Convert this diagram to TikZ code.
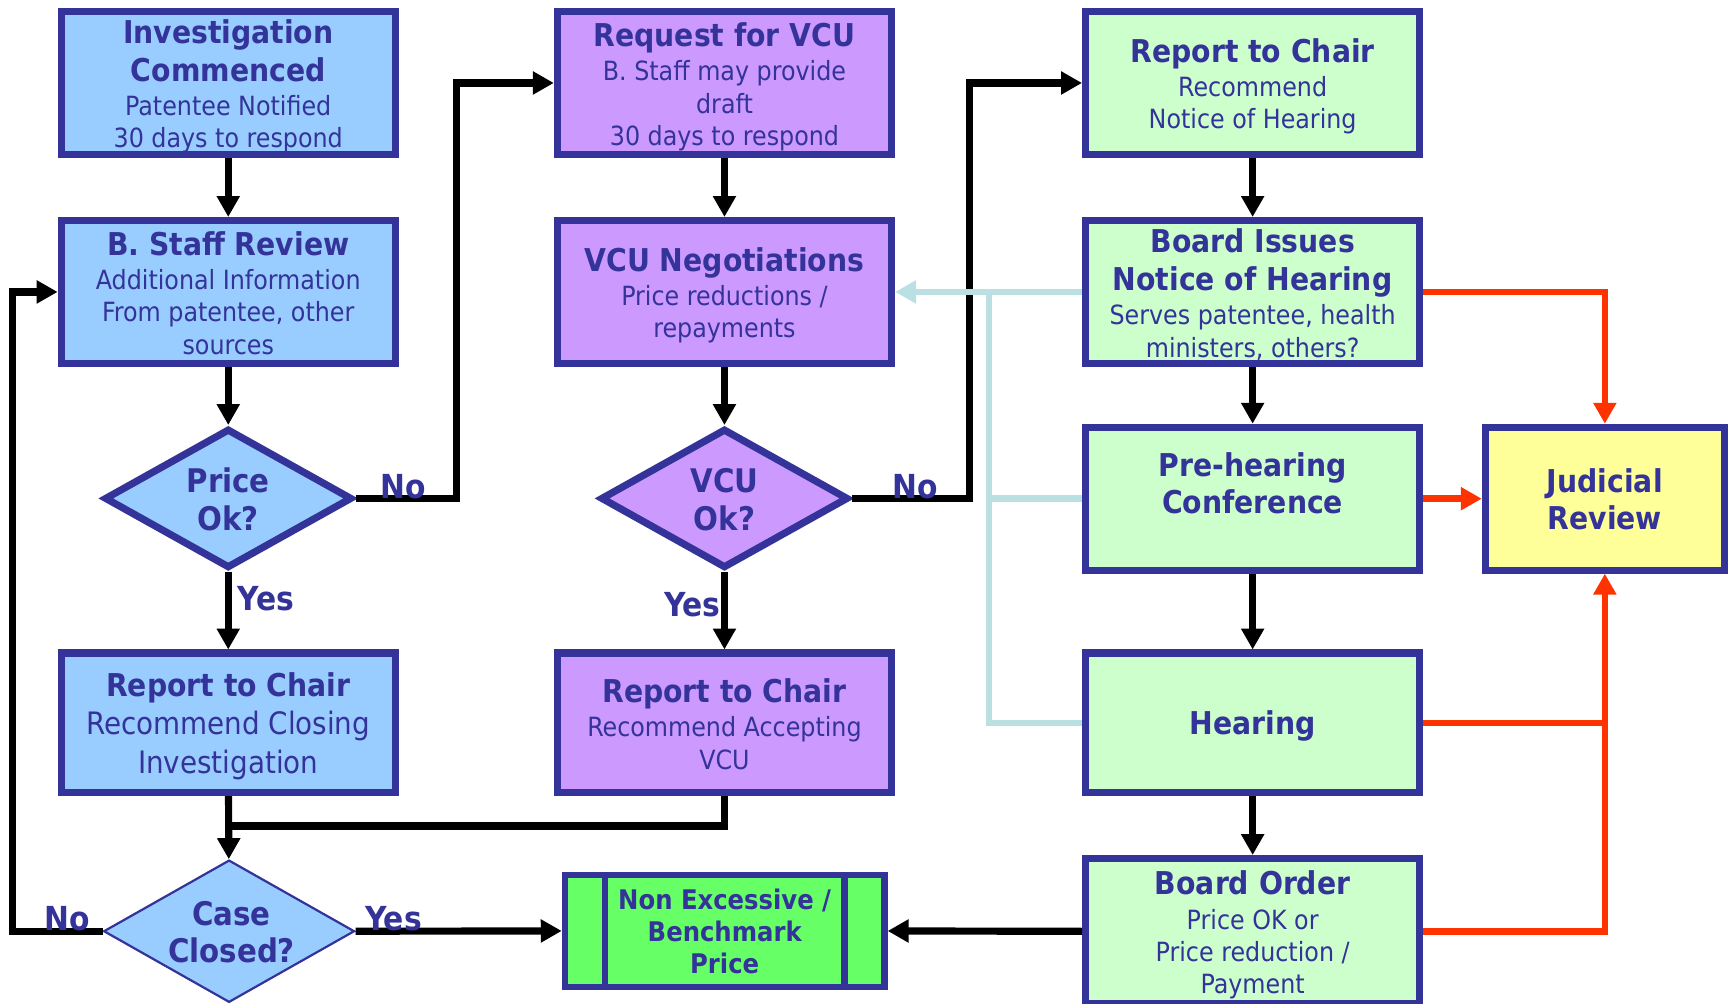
\documentclass[tikz,border=0pt]{standalone}
\usepackage{fontspec}
\setmainfont{DejaVu Sans Condensed}
\usetikzlibrary{arrows.meta,shapes.geometric}

\definecolor{edge}{HTML}{333399}
\definecolor{bluefill}{HTML}{99CCFF}
\definecolor{purplefill}{HTML}{CC99FF}
\definecolor{greenfill}{HTML}{CCFFCC}
\definecolor{yellowfill}{HTML}{FFFF99}
\definecolor{brightgreen}{HTML}{66FF66}
\definecolor{appeal}{HTML}{FF3300}
\definecolor{backlink}{HTML}{BBE0E3}

% text lines: each line carries its own strut, rows stack with no extra glue
\newcommand\hdl[1]{{\fontsize{28.5pt}{34pt}\selectfont\bfseries\rule[-6pt]{0pt}{34pt}#1}}
\newcommand\dil[1]{{\fontsize{29.5pt}{34pt}\selectfont\bfseries\rule[-7pt]{0pt}{34pt}#1}}
\newcommand\bdl[1]{{\fontsize{24pt}{29pt}\selectfont\rule[-4pt]{0pt}{29pt}#1}}
\newcommand\bdL[1]{{\fontsize{28pt}{35pt}\selectfont\rule[-6pt]{0pt}{35pt}#1}}
\newcommand\nxl[1]{{\fontsize{24.5pt}{29pt}\selectfont\bfseries\rule[-5pt]{0pt}{29pt}#1}}
\newcommand\stk[1]{{\renewcommand\arraystretch{0}\begin{tabular}{@{}c@{}}#1\end{tabular}}}

\begin{document}
\begin{tikzpicture}[x=1pt,y=-1pt,
  box/.style={draw=edge, line width=6.5pt, line join=miter, minimum width=303pt,
    minimum height=129.5pt, inner sep=0pt, text=edge},
  dia/.style={shape=diamond, draw=edge, line width=6.5pt, line join=miter,
    minimum width=224.8pt, minimum height=126.6pt, inner sep=0pt},
  txt/.style={inner sep=0pt, text=edge},
  lbl/.style={inner sep=0pt, text=edge, font=\fontsize{30pt}{34pt}\selectfont\bfseries,
    text height=21.5pt, text depth=0pt},
  flow/.style={draw=black, line width=6.5pt, line join=miter,
    -{Triangle[length=19pt,width=20pt]}},
  plain/.style={draw=black, line width=6.5pt, line join=miter},
  backflow/.style={draw=backlink, line width=6pt, line join=miter,
    -{Triangle[length=19pt,width=20pt]}},
  backline/.style={draw=backlink, line width=6pt, line join=miter},
  redflow/.style={draw=appeal, line width=6pt, line join=miter,
    -{Triangle[length=19pt,width=20pt]}},
  redline/.style={draw=appeal, line width=6pt, line join=miter}]

\useasboundingbox (0,0) rectangle (1568,910);

% ---- left column: investigation
\node[box, fill=bluefill] (inv) at (207,75.25)
  {\stk{\hdl{Investigation}\\ \hdl{Commenced}\\ \bdl{Patentee Notified}\\ \bdl{30 days to respond}}};
\node[box, fill=bluefill] (staff) at (207,264.75)
  {\stk{\hdl{B. Staff Review}\\ \bdl{Additional Information}\\ \bdl{From patentee, other}\\ \bdl{sources}}};
\node[dia, fill=bluefill] (price) at (207,452) {};
\node[txt] (pricetxt) at (207,454) {\stk{\dil{Price}\\ \dil{Ok?}}};
\node[box, fill=bluefill, minimum height=126.5pt] (rep1) at (207,655.5)
  {\stk{\hdl{Report to Chair}\\ \bdL{Recommend Closing}\\ \bdL{Investigation}}};
\node[shape=diamond, draw=edge, line width=2pt, fill=bluefill, minimum width=227.5pt,
  minimum height=129pt, inner sep=0pt] (case) at (207.75,844.5) {};
\node[txt] (casetxt) at (210,846) {\stk{\dil{Case}\\ \dil{Closed?}}};

% ---- middle column: undertaking
\node[box, fill=purplefill] (req) at (657,75.25)
  {\stk{\hdl{Request for VCU}\\ \bdl{B. Staff may provide}\\ \bdl{draft}\\ \bdl{30 days to respond}}};
\node[box, fill=purplefill] (vneg) at (657,264.75)
  {\stk{\hdl{VCU Negotiations}\\ \bdl{Price reductions /}\\ \bdl{repayments}}};
\node[dia, fill=purplefill] (vok) at (657,452) {};
\node[txt] (voktxt) at (657,454) {\stk{\dil{VCU}\\ \dil{Ok?}}};
\node[box, fill=purplefill, minimum height=126.5pt] (rep2) at (657,655.5)
  {\stk{\hdl{Report to Chair}\\ \bdl{Recommend Accepting}\\ \bdl{VCU}}};
\node[box, fill=brightgreen, line width=6pt, minimum width=289.6pt, minimum height=101.5pt]
  (nonex) at (657.2,844.25)
  {\stk{\nxl{Non Excessive /}\\ \nxl{Benchmark}\\ \nxl{Price}}};
\draw[draw=edge, line width=6pt] ([xshift=-108.6pt]nonex.north) -- ([xshift=-108.6pt]nonex.south);
\draw[draw=edge, line width=6pt] ([xshift=108.8pt]nonex.north) -- ([xshift=108.8pt]nonex.south);

% ---- right column: hearing
\node[box, fill=greenfill] (rep3) at (1136,75.25)
  {\stk{\hdl{Report to Chair}\\ \bdl{Recommend}\\ \bdl{Notice of Hearing}}};
\node[box, fill=greenfill] (issues) at (1136,264.75)
  {\stk{\hdl{Board Issues}\\ \hdl{Notice of Hearing}\\ \bdl{Serves patentee, health}\\ \bdl{ministers, others?}}};
\node[box, fill=greenfill] (pre) at (1136,452.25)
  {\stk{\hdl{Pre-hearing}\\ \hdl{Conference}\\ \bdl{}}};
\node[box, fill=greenfill, minimum height=126.5pt] (hear) at (1136,655.5)
  {\stk{\hdl{Hearing}}};
\node[box, fill=greenfill, minimum height=131.9pt] (order) at (1136,844.6)
  {\stk{\hdl{Board Order}\\ \bdl{Price OK or}\\ \bdl{Price reduction /}\\ \bdl{Payment}}};
\node[box, fill=yellowfill, minimum width=216.75pt] (jr) at (1455.4,452.25)
  {\stk{\hdl{Judicial}\\ \hdl{Review}}};

% ---- main flow
\draw[flow] (inv) -- (staff);
\draw[flow] (staff) -- (price);
\draw[flow] (price) -- (rep1);
\draw[flow] (price.east) -- (414,452) |- (req.west);
\draw[flow] (req) -- (vneg);
\draw[flow] (vneg) -- (vok);
\draw[flow] (vok) -- (rep2);
\draw[flow] (vok.east) -- (879,452) |- (rep3.west);
\draw[flow] (rep3) -- (issues);
\draw[flow] (issues) -- (pre);
\draw[flow] (pre) -- (hear);
\draw[flow] (hear) -- (order);
\draw[flow] (order.west) -- (nonex.east);

\coordinate (merge) at (207,749);
\draw[plain] (rep2.south) |- (merge);
\draw[flow] (rep1) -- (case);
\draw[flow] (case.east) -- (nonex.west);
\draw[flow] (case.west) -- (11.5,844.5) |- (staff.west);

% ---- back to negotiation
\coordinate (bus) at (897,264.75);
\draw[backflow] (issues.west) -- (vneg.east);
\draw[backline] (bus) |- (hear.west);
\draw[backline] (bus |- pre.west) -- (pre.west);

% ---- appeals
\draw[redflow] (issues.east) -| (jr.north);
\draw[redflow] (pre.east) -- (jr.west);
\draw[redline] (hear.east) -- (hear.east -| jr.south);
\draw[redflow] (order.east) -| (jr.south);

% ---- branch labels
\node[lbl] (no1) at (366,441) {No};
\node[lbl] (yes1) at (241,543) {Yes};
\node[lbl] (no2) at (830,441) {No};
\node[lbl] (yes2) at (628,548) {Yes};
\node[lbl] (no3) at (61,833) {No};
\node[lbl] (yes3) at (357,833) {Yes};
\end{tikzpicture}
\end{document}
